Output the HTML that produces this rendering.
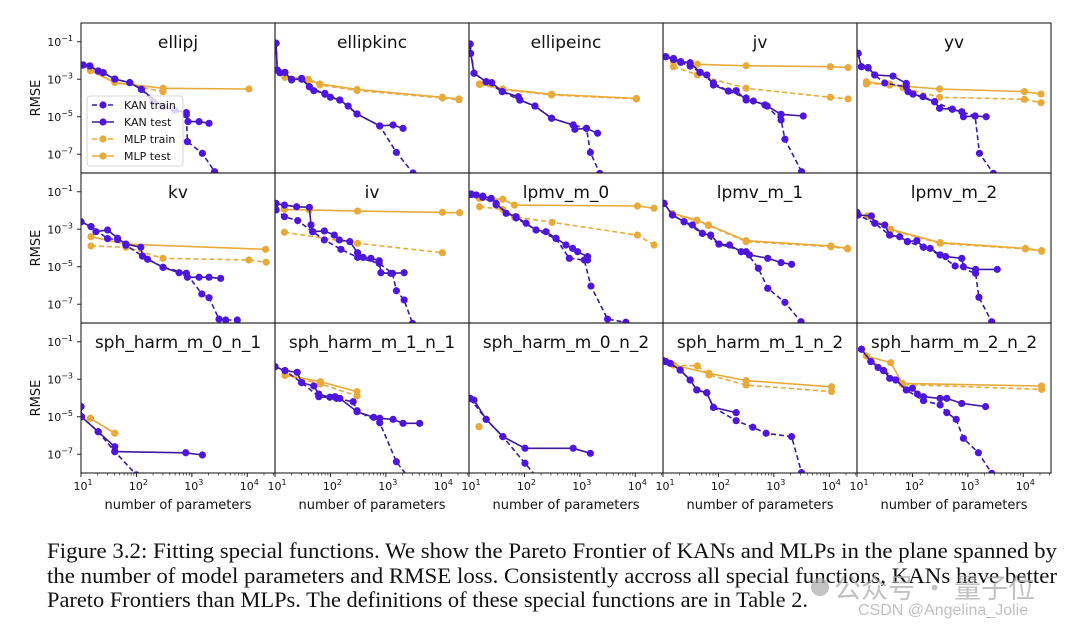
<!DOCTYPE html>
<html><head><meta charset="utf-8"><style>
html,body{margin:0;padding:0;background:#fff;}
svg{display:block;}
text{font-family:"DejaVu Sans","Liberation Sans",sans-serif;}
</style></head><body>
<svg id="fig" width="1080" height="630" viewBox="0 0 1080 630" xmlns="http://www.w3.org/2000/svg">
<g id="plots"></g>
<g font-size="22" fill="#111">
<text x="47" y="558" textLength="1010" lengthAdjust="spacingAndGlyphs" style="font-family:'Liberation Serif',serif">Figure 3.2: Fitting special functions. We show the Pareto Frontier of KANs and MLPs in the plane spanned by</text>
<text x="47" y="583" textLength="1010" lengthAdjust="spacingAndGlyphs" style="font-family:'Liberation Serif',serif">the number of model parameters and RMSE loss. Consistently accross all special functions, KANs have better</text>
<text x="47" y="607" textLength="761" lengthAdjust="spacingAndGlyphs" style="font-family:'Liberation Serif',serif">Pareto Frontiers than MLPs. The definitions of these special functions are in Table 2.</text>
</g>
<g fill="#a8a8a8" opacity="0.7">
<circle cx="820" cy="587" r="9" fill="#aaa"/>
<text x="834" y="598" font-size="27" style="font-family:'Noto Sans CJK SC',sans-serif">公众号 · 量子位</text>
<text x="858" y="615" font-size="16" style="font-family:'Liberation Sans',sans-serif">CSDN @Angelina_Jolie</text>
</g>
</svg>
<script>
const panelTitles=["ellipj","ellipkinc","ellipeinc","jv","yv","kv","iv","lpmv_m_0","lpmv_m_1","lpmv_m_2","sph_harm_m_0_n_1","sph_harm_m_1_n_1","sph_harm_m_0_n_2","sph_harm_m_1_n_2","sph_harm_m_2_n_2"];
// values are [log10(number of parameters), log10(RMSE)]
const ellipj_kanTest=[[1.04,-2.24],[1.16,-2.29],[1.31,-2.56],[1.40,-2.65],[1.61,-2.99],[1.88,-3.18],[2.09,-3.54],[2.48,-4.46],[2.69,-4.64],[2.90,-4.78],[2.93,-5.26],[3.13,-5.26],[3.31,-5.35]];
const ellipj_kanTrain=[[1.04,-2.24],[1.16,-2.29],[1.31,-2.56],[1.40,-2.65],[1.61,-2.99],[1.88,-3.18],[2.09,-3.54],[2.3,-4.2],[2.48,-4.46],[2.69,-4.64],[2.9,-4.9],[2.92,-6.33],[3.19,-6.95],[3.41,-7.93],[3.6,-8.7]];
const ellipj_mlpTest=[[1.17,-2.54],[1.61,-3.18],[2.48,-3.48],[4.03,-3.52]];
const ellipj_mlpTrain=[[1.17,-2.54],[1.61,-3.15],[2.48,-3.66]];
const ellipkinc_kanTest=[[1.02,-1.08],[1.04,-2.51],[1.09,-2.65],[1.18,-2.63],[1.3,-3.04],[1.48,-2.95],[1.62,-3.4],[1.7,-3.61],[1.9,-3.75],[2.0,-3.96],[2.17,-4.11],[2.32,-4.43],[2.48,-4.85],[2.89,-5.49],[3.13,-5.44],[3.31,-5.62]];
const ellipkinc_kanTrain=[[1.02,-1.08],[1.04,-2.51],[1.09,-2.65],[1.3,-3.0],[1.48,-3.0],[1.62,-3.4],[1.9,-3.8],[2.17,-4.11],[2.48,-4.85],[2.89,-5.49],[3.19,-6.9],[3.49,-8.0],[3.6,-8.5]];
const ellipkinc_mlpTest=[[1.18,-2.86],[1.6,-3.0],[1.81,-3.25],[2.48,-3.54],[4.02,-3.96],[4.32,-4.05]];
const ellipkinc_mlpTrain=[[1.18,-2.9],[1.6,-3.05],[1.81,-3.3],[2.48,-3.6],[4.02,-4.0],[4.32,-4.1]];
const ellipeinc_kanTest=[[1.02,-1.12],[1.03,-1.62],[1.09,-2.68],[1.31,-3.13],[1.41,-3.18],[1.6,-3.66],[1.89,-3.93],[1.92,-4.11],[2.19,-4.43],[2.49,-5.08],[2.88,-5.44],[2.91,-5.67],[3.12,-5.62],[3.32,-5.88]];
const ellipeinc_kanTrain=[[1.02,-1.12],[1.09,-2.68],[1.31,-3.13],[1.6,-3.66],[1.92,-4.11],[2.19,-4.43],[2.49,-5.08],[2.88,-5.44],[3.12,-5.62],[3.19,-6.9],[3.36,-8.02],[3.4,-8.5]];
const ellipeinc_mlpTest=[[1.19,-3.25],[1.61,-3.52],[2.49,-3.8],[4.02,-4.02]];
const ellipeinc_mlpTrain=[[1.19,-3.28],[1.61,-3.55],[2.49,-3.84],[4.02,-4.05]];
const jv_kanTest=[[1.05,-1.8],[1.19,-1.89],[1.32,-2.06],[1.49,-2.12],[1.67,-2.63],[1.79,-2.77],[1.91,-3.31],[2.18,-3.63],[2.32,-3.61],[2.5,-4.11],[2.63,-4.16],[2.84,-4.37],[2.88,-4.43],[3.13,-4.87],[3.53,-4.96]];
const jv_kanTrain=[[1.05,-1.8],[1.19,-1.95],[1.32,-2.1],[1.49,-2.3],[1.67,-2.63],[1.91,-3.2],[2.18,-3.63],[2.5,-4.0],[2.84,-4.37],[3.13,-5.17],[3.2,-6.2],[3.5,-7.93],[3.55,-8.3]];
const jv_mlpTest=[[1.19,-2.06],[1.62,-2.2],[2.5,-2.28],[4.02,-2.33],[4.34,-2.38]];
const jv_mlpTrain=[[1.19,-2.33],[1.62,-2.77],[2.5,-3.48],[4.02,-3.96],[4.34,-4.05]];
const yv_kanTest=[[1.02,-1.62],[1.08,-2.33],[1.2,-2.37],[1.32,-2.77],[1.65,-2.83],[1.89,-3.22],[1.92,-3.66],[2.01,-3.79],[2.19,-3.93],[2.4,-4.2],[2.49,-4.55],[2.72,-4.6],[2.89,-4.73],[2.92,-5.0],[3.13,-4.96],[3.33,-5.0]];
const yv_kanTrain=[[1.02,-1.62],[1.08,-2.33],[1.2,-2.4],[1.32,-2.77],[1.5,-3.2],[1.89,-3.4],[2.01,-3.79],[2.4,-4.2],[2.72,-4.6],[3.13,-4.96],[3.21,-6.95],[3.46,-8.02],[3.5,-8.3]];
const yv_mlpTest=[[1.17,-3.13],[1.59,-3.31],[2.49,-3.52],[4.02,-3.66],[4.32,-3.79]];
const yv_mlpTrain=[[1.17,-3.25],[1.59,-3.25],[1.83,-3.45],[2.49,-3.96],[4.02,-4.07],[4.32,-4.25]];
const kv_kanTest=[[1.0,-2.6],[1.18,-2.86],[1.27,-3.13],[1.48,-3.04],[1.66,-3.48],[1.81,-3.79],[2.08,-3.96],[2.11,-4.43],[2.2,-4.6],[2.48,-5.03],[2.77,-5.32],[2.9,-5.35],[2.92,-5.56],[3.13,-5.56],[3.31,-5.56],[3.52,-5.62]];
const kv_kanTrain=[[1.0,-2.6],[1.18,-2.86],[1.48,-3.5],[1.66,-3.55],[1.81,-3.85],[2.11,-4.43],[2.48,-5.03],[2.9,-5.35],[3.18,-6.45],[3.31,-6.65],[3.49,-7.79],[3.61,-7.84],[3.82,-7.84]];
const kv_mlpTest=[[1.18,-3.4],[1.81,-3.79],[4.33,-4.07]];
const kv_mlpTrain=[[1.18,-3.89],[1.81,-3.96],[2.48,-4.55],[4.03,-4.64],[4.34,-4.76]];
const iv_kanTest=[[1.02,-1.62],[1.17,-1.71],[1.39,-1.8],[1.62,-1.83],[1.65,-2.77],[1.68,-3.13],[1.89,-3.09],[2.07,-3.31],[2.16,-3.57],[2.35,-3.66],[2.49,-4.25],[2.59,-4.5],[2.73,-4.55],[2.88,-4.68],[2.91,-5.32],[3.09,-5.35],[3.33,-5.32]];
const iv_kanTrain=[[1.0,-1.9],[1.02,-1.97],[1.17,-2.33],[1.41,-2.54],[1.68,-3.13],[1.89,-3.57],[2.19,-4.07],[2.49,-4.5],[2.88,-4.82],[3.12,-5.35],[3.19,-6.28],[3.33,-6.77],[3.48,-8.02]];
const iv_mlpTest=[[1.17,-1.94],[1.62,-1.97],[2.49,-2.03],[4.02,-2.1],[4.33,-2.12]];
const iv_mlpTrain=[[1.17,-3.16],[2.49,-3.75],[4.02,-4.25]];
const lpmv0_kanTest=[[1.04,-1.12],[1.13,-1.17],[1.25,-1.23],[1.4,-1.35],[1.49,-1.62],[1.67,-2.15],[1.85,-2.33],[2.03,-2.68],[2.21,-3.04],[2.39,-3.13],[2.57,-3.48],[2.75,-3.84],[2.87,-4.02],[2.96,-4.2],[3.14,-4.46],[3.14,-4.64]];
const lpmv0_kanTrain=[[1.04,-1.15],[1.25,-1.3],[1.49,-1.7],[1.85,-2.4],[2.21,-3.04],[2.57,-3.5],[2.81,-4.55],[3.08,-4.64],[3.2,-6.03],[3.5,-7.79],[3.83,-7.96]];
const lpmv0_mlpTest=[[1.19,-1.35],[1.61,-1.4],[1.82,-1.71],[4.04,-1.76],[4.34,-1.88]];
const lpmv0_mlpTrain=[[1.19,-1.8],[1.61,-1.94],[1.82,-2.33],[2.5,-2.63],[4.04,-3.31],[4.34,-3.84]];
const lpmv1_kanTest=[[1.02,-1.62],[1.17,-2.24],[1.38,-2.6],[1.53,-2.77],[1.71,-3.22],[1.86,-3.31],[2.01,-3.79],[2.2,-3.84],[2.41,-4.2],[2.56,-4.37],[2.89,-4.55],[3.13,-4.78],[3.32,-4.87]];
const lpmv1_kanTrain=[[1.02,-1.62],[1.17,-2.24],[1.38,-2.6],[1.71,-3.22],[2.01,-3.79],[2.5,-4.2],[2.72,-5.08],[2.89,-6.15],[3.2,-6.9],[3.49,-7.93],[3.55,-8.3]];
const lpmv1_mlpTest=[[1.17,-2.15],[1.61,-2.51],[1.82,-2.77],[2.5,-3.61],[4.03,-3.89],[4.33,-4.02]];
const lpmv1_mlpTrain=[[1.17,-2.18],[1.61,-2.55],[1.82,-2.8],[2.5,-3.66],[4.03,-3.93],[4.33,-4.05]];
const lpmv2_kanTest=[[1.02,-2.24],[1.26,-2.29],[1.32,-2.68],[1.5,-2.77],[1.59,-3.31],[1.77,-3.4],[1.91,-3.66],[2.08,-3.61],[2.2,-3.96],[2.32,-4.02],[2.5,-4.37],[2.6,-4.46],[2.89,-4.55],[2.92,-5.0],[3.14,-5.14],[3.53,-5.14]];
const lpmv2_kanTrain=[[1.0,-2.1],[1.02,-2.24],[1.32,-2.68],[1.59,-3.31],[1.91,-3.66],[2.2,-3.96],[2.5,-4.37],[2.77,-4.96],[3.14,-5.35],[3.2,-6.63],[3.43,-7.93],[3.48,-8.2]];
const lpmv2_mlpTest=[[1.19,-2.29],[1.61,-3.0],[2.5,-3.71],[4.04,-4.02],[4.33,-4.14]];
const lpmv2_mlpTrain=[[1.19,-2.32],[1.61,-3.05],[2.5,-3.75],[4.04,-4.05],[4.33,-4.17]];
const sph01_kanTest=[[1.0,-4.46],[1.01,-5.0],[1.31,-5.8],[1.61,-6.6],[1.61,-6.86],[2.89,-6.92],[3.19,-7.04]];
const sph01_kanTrain=[[1.0,-4.46],[1.01,-5.0],[1.31,-5.8],[1.61,-6.86],[2.0,-8.1],[2.1,-8.4]];
const sph01_mlpTest=[[1.17,-5.08],[1.61,-5.88]];
const sph01_mlpTrain=[[1.17,-5.08],[1.61,-5.88]];
const sph11_kanTest=[[1.0,-2.33],[1.18,-2.54],[1.4,-2.63],[1.48,-3.18],[1.7,-3.36],[1.79,-3.79],[1.99,-3.96],[2.08,-3.93],[2.17,-4.02],[2.48,-4.73],[2.78,-5.03],[2.89,-5.08],[3.13,-5.14],[3.31,-5.35],[3.61,-5.35]];
const sph11_kanTrain=[[1.0,-2.33],[1.18,-2.54],[1.48,-3.18],[1.79,-3.93],[2.11,-4.02],[2.41,-4.2],[2.48,-4.68],[2.89,-5.32],[3.19,-7.4],[3.4,-8.2]];
const sph11_mlpTest=[[1.18,-2.77],[1.82,-3.13],[2.48,-3.66]];
const sph11_mlpTrain=[[1.18,-2.8],[1.82,-3.25],[2.48,-3.89]];
const sph02_kanTest=[[1.02,-4.02],[1.09,-4.11],[1.31,-5.14],[1.61,-6.06],[2.01,-6.68],[2.88,-6.68],[3.19,-6.95]];
const sph02_kanTrain=[[1.02,-4.02],[1.31,-5.14],[1.61,-6.06],[2.01,-7.48],[2.22,-8.2]];
const sph02_mlpTest=[[1.18,-5.53]];
const sph02_mlpTrain=[[1.18,-5.53]];
const sph12_kanTest=[[1.05,-2.06],[1.13,-2.15],[1.31,-2.51],[1.49,-3.04],[1.61,-3.57],[1.79,-3.72],[1.91,-4.5],[2.32,-4.78]];
const sph12_kanTrain=[[1.0,-2.0],[1.05,-2.06],[1.31,-2.51],[1.49,-3.04],[1.61,-3.57],[1.79,-3.72],[1.91,-4.5],[2.32,-5.21],[2.62,-5.56],[2.86,-5.88],[3.32,-6.06],[3.5,-7.98],[3.52,-8.2]];
const sph12_mlpTest=[[1.19,-2.24],[1.83,-2.68],[2.5,-3.07],[4.04,-3.4]];
const sph12_mlpTrain=[[1.19,-2.24],[1.62,-2.29],[1.83,-2.77],[2.5,-3.31],[4.04,-3.66]];
const sph22_kanTest=[[1.08,-1.4],[1.25,-2.06],[1.38,-2.37],[1.48,-2.54],[1.59,-2.95],[1.7,-3.04],[1.89,-3.57],[2.0,-3.48],[2.09,-3.79],[2.2,-3.93],[2.5,-4.02],[2.62,-4.02],[2.89,-4.29],[3.32,-4.46]];
const sph22_kanTrain=[[1.08,-1.4],[1.25,-2.06],[1.48,-2.54],[1.7,-3.04],[1.89,-3.57],[2.2,-4.14],[2.5,-4.37],[2.62,-4.78],[2.79,-5.14],[2.92,-6.15],[3.19,-6.92],[3.43,-8.02],[3.5,-8.3]];
const sph22_mlpTest=[[1.17,-1.76],[1.61,-2.12],[1.82,-3.22],[4.33,-3.36]];
const sph22_mlpTrain=[[1.17,-1.76],[1.82,-3.28],[4.33,-3.54]];

const kanTestSeries=[ellipj_kanTest,ellipkinc_kanTest,ellipeinc_kanTest,jv_kanTest,yv_kanTest,kv_kanTest,iv_kanTest,lpmv0_kanTest,lpmv1_kanTest,lpmv2_kanTest,sph01_kanTest,sph11_kanTest,sph02_kanTest,sph12_kanTest,sph22_kanTest];
const kanTrainSeries=[ellipj_kanTrain,ellipkinc_kanTrain,ellipeinc_kanTrain,jv_kanTrain,yv_kanTrain,kv_kanTrain,iv_kanTrain,lpmv0_kanTrain,lpmv1_kanTrain,lpmv2_kanTrain,sph01_kanTrain,sph11_kanTrain,sph02_kanTrain,sph12_kanTrain,sph22_kanTrain];
const mlpTestSeries=[ellipj_mlpTest,ellipkinc_mlpTest,ellipeinc_mlpTest,jv_mlpTest,yv_mlpTest,kv_mlpTest,iv_mlpTest,lpmv0_mlpTest,lpmv1_mlpTest,lpmv2_mlpTest,sph01_mlpTest,sph11_mlpTest,sph02_mlpTest,sph12_mlpTest,sph22_mlpTest];
const mlpTrainSeries=[ellipj_mlpTrain,ellipkinc_mlpTrain,ellipeinc_mlpTrain,jv_mlpTrain,yv_mlpTrain,kv_mlpTrain,iv_mlpTrain,lpmv0_mlpTrain,lpmv1_mlpTrain,lpmv2_mlpTrain,sph01_mlpTrain,sph11_mlpTrain,sph02_mlpTrain,sph12_mlpTrain,sph22_mlpTrain];
const xTickExps=[1,2,3,4];
const yTickExps=[-1,-3,-5,-7];

const NS="http://www.w3.org/2000/svg";
const root=document.getElementById('plots');
const colLeft=[81,275,469,663,857], rowTop=[23,173,323];
const PW=194, PH=150, XMIN=1, XMAX=4.5, YMIN=-8, YMAX=0;
const KAN='#4e16dc', KANL='#3c1a9c', MLP='#e8aa3a';
function el(tag,attrs,parent){const e=document.createElementNS(NS,tag);for(const k in attrs)e.setAttribute(k,attrs[k]);(parent||root).appendChild(e);return e;}
function xs(v,L){return L+(v-XMIN)/(XMAX-XMIN)*PW;}
function ys(v,T){return T+(YMAX-v)/(YMAX-YMIN)*PH;}

const defs=el('defs',{});
for(let i=0;i<15;i++){
  const cp=el('clipPath',{id:'clip'+i},defs);
  el('rect',{x:colLeft[i%5],y:rowTop[Math.floor(i/5)],width:PW,height:PH},cp);
}
function drawSeries(g,data,L,T,color,lineColor,dashed,name,ci){
  const sg=el('g',{'clip-path':'url(#clip'+ci+')'},g);
  
  
  const pts=data.map(d=>xs(d[0],L).toFixed(1)+','+ys(d[1],T).toFixed(1)).join(' ');
  const pl=el('polyline',{points:pts,fill:'none',stroke:lineColor,'stroke-width':1.6},sg);
  if(dashed)pl.setAttribute('stroke-dasharray','5,3');
  data.forEach(d=>{
    const c=el('circle',{cx:xs(d[0],L),cy:ys(d[1],T),r:3.6,fill:color},sg);
    
    
  });
}
for(let i=0;i<15;i++){
  const col=i%5,row=Math.floor(i/5),L=colLeft[col],T=rowTop[row];
  const g=el('g',{});
  
  
  drawSeries(g,mlpTrainSeries[i],L,T,MLP,MLP,true,'mlp-train-series',i);
  drawSeries(g,mlpTestSeries[i],L,T,MLP,MLP,false,'mlp-test-series',i);
  drawSeries(g,kanTrainSeries[i],L,T,KAN,KANL,true,'kan-train-series',i);
  drawSeries(g,kanTestSeries[i],L,T,KAN,KANL,false,'kan-test-series',i);
  el('rect',{x:L,y:T,width:PW,height:PH,fill:'none',stroke:'#222','stroke-width':1.1},g);
  const t=el('text',{x:L+PW/2,y:T+25,'text-anchor':'middle','font-size':17,fill:'#111'},g);
  t.textContent=panelTitles[i];
  
  
  if(col===0){
    yTickExps.forEach(e=>{
      const y=ys(e,T);
      el('line',{x1:L-4,x2:L,y1:y,y2:y,stroke:'#222','stroke-width':1},g);
      const tx=el('text',{x:L-8,y:y+4,'text-anchor':'end','font-size':11,fill:'#111'},g);
      
      
      const a=el('tspan',{},tx);a.textContent='10';
      const b=el('tspan',{dy:-5,'font-size':8},tx);b.textContent='\u2212'+Math.abs(e);
    });
    const yl=el('text',{transform:`translate(40,${T+PH/2}) rotate(-90)`,'text-anchor':'middle','font-size':13,fill:'#111'},g);
    yl.textContent='RMSE';
    
    
  }
  if(row===2){
    for(let d=1;d<=4;d++){for(let m=1;m<=9;m++){const v=d+Math.log10(m);if(v>XMAX)break;
      const x=xs(v,L);el('line',{x1:x,x2:x,y1:T+PH,y2:T+PH+(m===1?4:2.5),stroke:'#222','stroke-width':m===1?1:0.7},g);}}
    xTickExps.forEach(e=>{
      const x=xs(e,L);
      const tx=el('text',{x:x+2,y:490,'text-anchor':'middle','font-size':11,fill:'#111'},g);
      
      
      const a=el('tspan',{},tx);a.textContent='10';
      const b=el('tspan',{dy:-5,'font-size':8},tx);b.textContent=String(e);
    });
    const xl=el('text',{x:L+PW/2,y:509,'text-anchor':'middle','font-size':13,fill:'#111'},g);
    xl.textContent='number of parameters';
    
    
  }
}
// legend in first panel
const lg=el('g',{});


el('rect',{x:87,y:96,width:96,height:70,rx:3,fill:'#fff','fill-opacity':0.8,stroke:'#ccc','stroke-width':0.8},lg);
const legendLabels=['KAN train','KAN test','MLP train','MLP test'];
const legendColors=[KAN,KAN,MLP,MLP], legendLine=[KANL,KANL,MLP,MLP], legendDash=[true,false,true,false];
legendLabels.forEach((lab,k)=>{
  const y=105+k*17;
  const eg=el('g',{},lg);
  
  
  const ln=el('line',{x1:92,x2:114,y1:y,y2:y,stroke:legendLine[k],'stroke-width':1.6},eg);
  if(legendDash[k])ln.setAttribute('stroke-dasharray','5,3');
  el('circle',{cx:103,cy:y,r:3.6,fill:legendColors[k]},eg);
  const t=el('text',{x:124,y:y+4,'font-size':11,fill:'#111'},eg);t.textContent=lab;
});
</script>
</body></html>
